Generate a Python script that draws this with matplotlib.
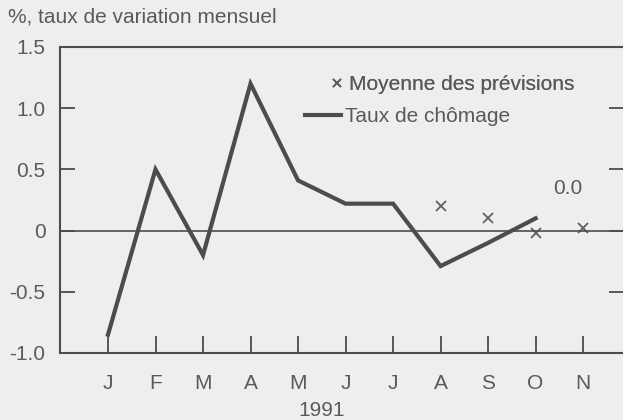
import matplotlib
matplotlib.use("Agg")
import matplotlib.pyplot as plt

months = ["J", "F", "M", "A", "M", "J", "J", "A", "S", "O", "N"]
taux_chomage = [-0.85, 0.5, -0.2, 1.2, 0.41, 0.22, 0.22, -0.29, -0.1, 0.1]
prev_idx = [7, 8, 9, 10]
prev_vals = [0.2, 0.1, -0.02, 0.02]
yticks = [-1.0, -0.5, 0, 0.5, 1.0, 1.5]
ytick_labels = ["-1.0", "-0.5", "0", "0.5", "1.0", "1.5"]

bg = "#eeeeec"
ink = "#4c4c4c"
txt = "#5a5a5a"
fs = 15
plt.rcParams["font.family"] = ["Liberation Sans", "DejaVu Sans"]

fig = plt.figure(figsize=(6.23, 4.20), dpi=100, facecolor=bg)
ax = fig.add_axes([60/623, 67/420, 564/623, 306/420], facecolor=bg)

x = list(range(len(taux_chomage)))
line, = ax.plot(x, taux_chomage, color=ink, lw=3.0, solid_joinstyle="miter")
marks, = ax.plot(prev_idx, prev_vals, ls="none", marker="x", ms=6.5, mew=1.3,
                 color="#606060")
ax.axhline(0, color=ink, lw=1.2)

ax.set_xlim(-1.01, 10.86)
ax.set_ylim(-1.0, 1.5)
ax.set_xticks(range(len(months)))
ax.set_xticklabels(months)
ax.set_yticks(yticks)
ax.set_yticklabels(ytick_labels)

for s in ["left", "bottom", "top", "right"]:
    ax.spines[s].set_color(ink)
    ax.spines[s].set_linewidth(1.5)

ax.tick_params(axis="x", direction="in", length=12.2, width=1.3, color=ink,
               labelsize=fs, labelcolor=txt, pad=15)
ax.tick_params(axis="y", direction="in", length=10.8, width=1.3, color=ink,
               labelsize=fs, labelcolor=txt, pad=10.5, right=True)

fig.text(8/623, 1 - 17/420, "%, taux de variation mensuel", fontsize=fs,
         color=txt, ha="left", va="center")
fig.text(322/623, 1 - 410/420, "1991", fontsize=fs, color=txt,
         ha="center", va="center")

px = fs * 100 / 72.0
leg1 = fig.legend([marks], ["Moyenne des prévisions"], loc="center left",
                  bbox_to_anchor=(331/623, 1 - 85/420), frameon=False,
                  fontsize=fs, labelcolor=txt, handlelength=12.5/px,
                  handletextpad=5.5/px, borderpad=0, borderaxespad=0,
                  markerscale=0.8)
leg2 = fig.legend([line], ["Taux de chômage"], loc="center left",
                  bbox_to_anchor=(305/623, 1 - 117/420), frameon=False,
                  fontsize=fs, labelcolor=txt, handlelength=36/px,
                  handletextpad=4/px, borderpad=0, borderaxespad=0)
fig.add_artist(leg1)

ax.text(9.68, 0.34, "0.0", fontsize=fs, color=txt, ha="center", va="center")

fig.savefig("out.png", dpi=100, facecolor=bg)
